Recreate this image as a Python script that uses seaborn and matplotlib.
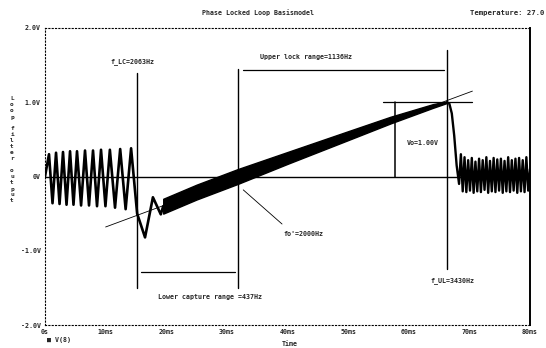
import numpy as np
import matplotlib
matplotlib.use("Agg")
import matplotlib.pyplot as plt
import seaborn as sns

# ---- waveform V(8): loop filter output (time in ms, voltage in V) ----
# ringing before lock-in (beat between input and VCO)
pre_t = [0.0, 0.66, 1.24, 1.82, 2.40, 2.97, 3.55, 4.13, 4.70, 5.28, 5.95, 6.60,
         7.26, 7.92, 8.58, 9.24, 9.97, 10.70, 11.55, 12.40, 13.30, 14.20, 15.20,
         16.50, 17.80, 19.10, 19.50]
pre_v = [0.0, 0.30, -0.36, 0.32, -0.37, 0.33, -0.38, 0.34, -0.38, 0.34, -0.39, 0.35,
         -0.39, 0.35, -0.40, 0.36, -0.40, 0.36, -0.42, 0.37, -0.44, 0.38, -0.50,
         -0.82, -0.28, -0.51, -0.40]

# locked region: centre of the dense band and its half width
band_t = [19.5, 25.0, 31.8, 40.0, 45.0, 50.0, 57.0, 64.0, 66.3]
band_c = [-0.40, -0.21, 0.00, 0.25, 0.40, 0.55, 0.76, 0.95, 1.00]
band_w = [0.10, 0.10, 0.10, 0.08, 0.07, 0.06, 0.045, 0.025, 0.01]

# fall-out of lock and ringing afterwards
post_t = [66.3, 66.7, 67.1, 67.5, 67.9, 68.3, 68.6, 68.9, 69.2, 69.5, 69.8, 70.1,
          70.4, 70.7, 71.0, 71.3, 71.6, 71.9, 72.2, 72.5, 72.8, 73.1, 73.4, 73.7,
          74.0, 74.3, 74.6, 74.9, 75.2, 75.5, 75.8, 76.1, 76.4, 76.7, 77.0, 77.3,
          77.6, 77.9, 78.2, 78.5, 78.8, 79.1, 79.4, 79.7, 80.0]
post_v = [1.00, 0.98, 0.85, 0.55, 0.15, -0.10, 0.30, -0.20, 0.26, -0.21, 0.22, -0.19,
          0.25, -0.22, 0.20, -0.20, 0.24, -0.21, 0.22, -0.18, 0.26, -0.22, 0.21,
          -0.20, 0.25, -0.21, 0.23, -0.19, 0.24, -0.22, 0.21, -0.20, 0.26, -0.21,
          0.22, -0.19, 0.24, -0.22, 0.25, -0.20, 0.22, -0.21, 0.26, -0.19, 0.10]

# tangent through the locked region
tan_t = [10.0, 70.5]
tan_v = [-0.68, 1.15]

# markers (ms / V)
f_lc_t = 15.2
fo_t = 31.8
f_ul_t = 66.3
vo_level = 1.00
vo_t = 57.8

x_ticks = [0, 10, 20, 30, 40, 50, 60, 70, 80]
x_labels = ["0s", "10ms", "20ms", "30ms", "40ms", "50ms", "60ms", "70ms", "80ms"]
y_ticks = [-2, -1, 0, 1, 2]
y_labels = ["-2.0V", "-1.0V", "0V", "1.0V", "2.0V"]

sns.set_theme(style="white")
plt.rcParams["font.family"] = ["DejaVu Sans Mono"]
plt.rcParams["font.weight"] = "bold"

fig = plt.figure(figsize=(5.46, 3.48), dpi=100)
ax = fig.add_axes([45 / 546, 23 / 348, 485 / 546, 297 / 348])

FS = 4.8
ink = "black"

# waveform
sns.lineplot(x=pre_t, y=pre_v, ax=ax, color=ink, lw=1.9, sort=False, estimator=None)
bt = np.array(band_t); bc = np.array(band_c); bw = np.array(band_w)
ax.fill_between(bt, bc - bw, bc + bw, color=ink, lw=1.0, edgecolor=ink)
sns.lineplot(x=post_t, y=post_v, ax=ax, color=ink, lw=1.7, sort=False, estimator=None)

# zero line and tangent
ax.axhline(0, color=ink, lw=1.0)
ax.plot(tan_t, tan_v, color=ink, lw=0.6)

# vertical marker lines
ax.plot([f_lc_t, f_lc_t], [1.40, -1.50], color=ink, lw=1.0)
ax.plot([fo_t, fo_t], [1.45, -1.50], color=ink, lw=1.0)
ax.plot([f_ul_t, f_ul_t], [1.70, -1.25], color=ink, lw=1.0)

# range bars
ax.plot([32.6, 65.8], [1.43, 1.43], color=ink, lw=0.9)
ax.plot([15.8, 31.4], [-1.28, -1.28], color=ink, lw=0.9)

# Vo measurement
ax.plot([55.8, 70.5], [vo_level, vo_level], color=ink, lw=0.9)
ax.plot([vo_t, vo_t], [vo_level, 0], color=ink, lw=1.1)

# fo' pointer
ax.plot([32.7, 39.1], [-0.18, -0.64], color=ink, lw=0.6)

# annotations
ax.text(10.8, 1.55, "f_LC=2063Hz", fontsize=FS, fontweight="bold", va="center")
ax.text(43.0, 1.61, "Upper lock range=1136Hz", fontsize=FS, fontweight="bold",
        ha="center", va="center")
ax.text(59.7, 0.45, "Vo=1.00V", fontsize=FS, fontweight="bold", va="center")
ax.text(39.4, -0.78, "fo'=2000Hz", fontsize=FS, fontweight="bold", va="center")
ax.text(27.2, -1.62, "Lower capture range =437Hz", fontsize=FS, fontweight="bold",
        ha="center", va="center")
ax.text(63.5, -1.40, "f_UL=3430Hz", fontsize=FS, fontweight="bold", va="center")

# axes
ax.set_xlim(0, 80)
ax.set_ylim(-2, 2)
ax.set_xticks(x_ticks)
ax.set_xticklabels(x_labels, fontsize=FS, fontweight="bold")
ax.set_yticks(y_ticks)
ax.set_yticklabels(y_labels, fontsize=FS, fontweight="bold")
ax.tick_params(axis="both", length=2, width=0.6, color=ink, pad=3, direction="in")
for side, sp in ax.spines.items():
    sp.set_visible(True)
    sp.set_color(ink)
    sp.set_linestyle((0, (1, 2)))
    sp.set_linewidth(0.8)
ax.spines["right"].set_linewidth(1.4)
ax.spines["right"].set_linestyle((0, (1, 1)))
ax.grid(False)

fig.text(258 / 546, 1 - 13 / 348, "Phase Locked Loop Basismodel", fontsize=FS,
         fontweight="bold", ha="center", va="center")
fig.text(544 / 546, 1 - 13 / 348, "Temperature: 27.0", fontsize=FS + 0.4,
         fontweight="bold", ha="right", va="center")
fig.text(12 / 546, 1 - 150 / 348, "\n".join("Loop filter output"), fontsize=4.4,
         fontweight="bold", ha="center", va="center", linespacing=1.25)
fig.text(47 / 546, 1 - 340 / 348, "\u25a0 V(8)", fontsize=FS, fontweight="bold",
         ha="left", va="center")
fig.text(290 / 546, 1 - 344 / 348, "Time", fontsize=FS, fontweight="bold",
         ha="center", va="center")

fig.savefig("out.png", dpi=100, facecolor="white")
